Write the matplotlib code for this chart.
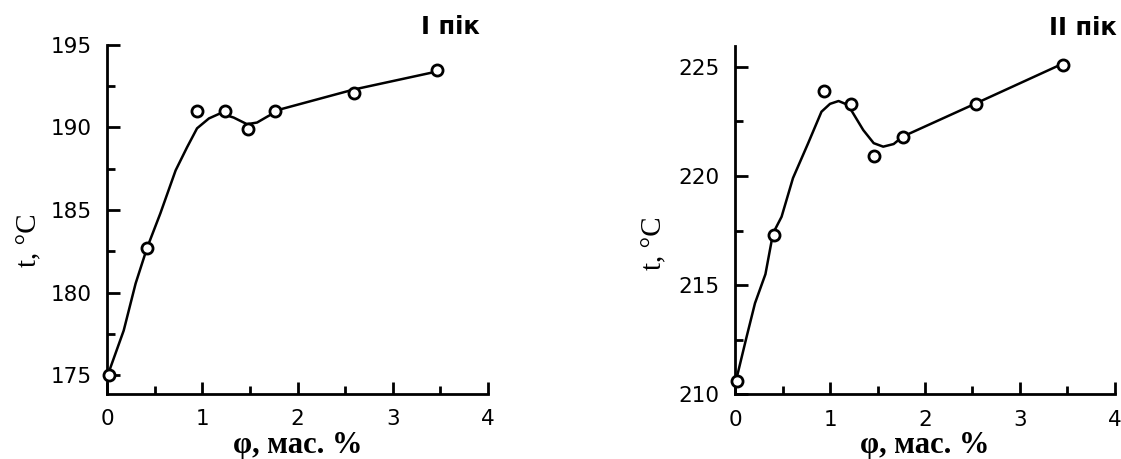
import matplotlib
matplotlib.use("Agg")
import matplotlib.pyplot as plt
from matplotlib.ticker import MultipleLocator

# measured points, peak I
x1 = [0.02, 0.42, 0.945, 1.235, 1.477, 1.767, 2.59, 3.465]
y1 = [175.0, 182.7, 191.0, 191.0, 189.9, 191.0, 192.1, 193.5]
# smoothed curve, peak I
cx1 = [0.02, 0.175, 0.30, 0.42, 0.56, 0.72, 0.84, 0.945, 1.07, 1.19, 1.33, 1.47, 1.575, 1.68, 1.82, 2.59, 3.43]
cy1 = [175.2, 177.7, 180.55, 182.7, 184.8, 187.4, 188.8, 189.95, 190.55, 190.86, 190.6, 190.2, 190.3, 190.65, 191.1, 192.3, 193.35]

# measured points, peak II
x2 = [0.02, 0.41, 0.94, 1.22, 1.46, 1.765, 2.535, 3.456]
y2 = [210.6, 217.3, 223.9, 223.3, 220.9, 221.8, 223.3, 225.1]
cx2 = [0.02, 0.12, 0.21, 0.32, 0.40, 0.49, 0.61, 0.77, 0.91, 1.0, 1.09, 1.19, 1.35, 1.46, 1.56, 1.67, 1.765, 2.535, 3.42]
cy2 = [210.8, 212.6, 214.17, 215.5, 217.37, 218.13, 219.9, 221.5, 222.94, 223.3, 223.43, 223.25, 222.1, 221.5, 221.34, 221.46, 221.8, 223.32, 225.08]

xticks = [0, 1, 2, 3, 4]
yticks1 = [175, 180, 185, 190, 195]
yticks2 = [210, 215, 220, 225]

plt.rcParams['font.family'] = ['DejaVu Sans']

fig = plt.figure(figsize=(11.21, 4.59), dpi=100)
ax1 = fig.add_axes([0.0955, 0.1416, 0.3398, 0.7604])
ax2 = fig.add_axes([0.6557, 0.141, 0.3389, 0.7588])


def style(ax, cx, cy, x, y, yticks, ylim, title, tx, lx, ly):
    ax.plot(cx, cy, color="black", lw=1.8, clip_on=False, zorder=2)
    ax.plot(x, y, "o", ms=8, mfc="white", mec="black", mew=2, clip_on=False, zorder=3)
    ax.set_xlim(0, 4)
    ax.set_ylim(*ylim)
    ax.set_xticks(xticks)
    ax.set_yticks(yticks)
    ax.xaxis.set_minor_locator(MultipleLocator(0.5))
    ax.yaxis.set_minor_locator(MultipleLocator(2.5))
    for s in ["top", "right"]:
        ax.spines[s].set_visible(False)
    for s in ["left", "bottom"]:
        ax.spines[s].set_linewidth(2)
    ax.tick_params(which="major", direction="in", length=9, width=2, labelsize=15.5)
    ax.tick_params(axis="y", which="major", pad=11)
    ax.tick_params(axis="x", which="major", pad=11)
    ax.tick_params(which="minor", direction="in", length=6, width=2)
    ax.set_xlabel("φ, мас. %", family="Liberation Serif", fontsize=22, fontweight="bold", labelpad=1)
    ax.set_ylabel("t, °C", family="Liberation Serif", fontsize=21)
    ax.yaxis.set_label_coords(lx, ly)
    ax.text(tx, 1.085, title, transform=ax.transAxes, ha="right", va="top",
            fontsize=17.5, fontweight="bold")


style(ax1, cx1, cy1, x1, y1, yticks1, (173.85, 195), "I пік", 0.979, -0.17, 0.44)
style(ax2, cx2, cy2, x2, y2, yticks2, (210, 225.95), "II пік", 1.005, -0.178, 0.434)

fig.savefig("out.png", dpi=100)
